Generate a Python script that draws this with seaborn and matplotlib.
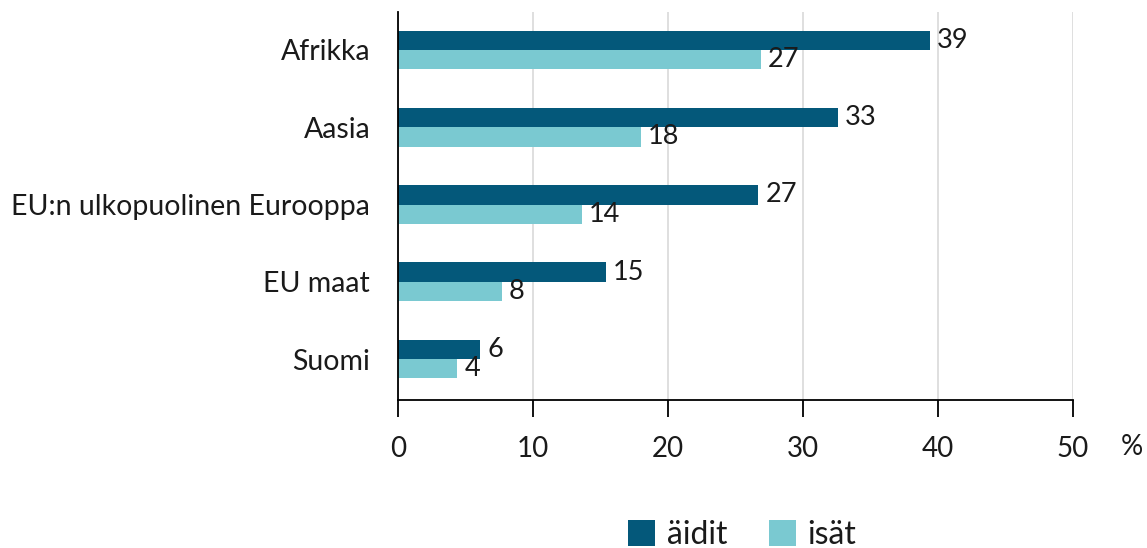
import pandas as pd
import numpy as np
import matplotlib
matplotlib.use('Agg')
import matplotlib.pyplot as plt
import seaborn as sns

# data
alueet = ['Afrikka', 'Aasia', 'EU:n ulkopuolinen Eurooppa', 'EU maat', 'Suomi']
aidit = [39.4, 32.6, 26.7, 15.4, 6.1]
isat = [26.9, 18.0, 13.6, 7.7, 4.4]
aidit_lbl = ['39', '33', '27', '15', '6']
isat_lbl = ['27', '18', '14', '8', '4']

dta = pd.DataFrame({'alue': alueet * 2,
                    'arvo': aidit + isat,
                    'ryhma': ['äidit'] * 5 + ['isät'] * 5})

sns.set_theme(style='white')
plt.rcParams['font.family'] = ['Lato', 'DejaVu Sans']

fig = plt.figure(figsize=(11.47, 5.48), dpi=100)
ax = fig.add_axes([0.347, 0.27, 0.5885, 0.708])

sns.barplot(data=dta, y='alue', x='arvo', hue='ryhma', orient='h',
            palette=['#04587a', '#7ac9d1'], width=0.5, gap=0,
            errorbar=None, ax=ax, legend=True, saturation=1,
            edgecolor='none', linewidth=0)

for cont, lbl in zip(ax.containers, [aidit_lbl, isat_lbl]):
    ax.bar_label(cont, labels=lbl, padding=5, fontsize=19.5, color='#1a1a1a')

ax.set_xlim(0, 50)
ax.set_ylim(4.53, -0.49)
ax.set_xticks([0, 10, 20, 30, 40, 50])
ax.xaxis.grid(True, color='#d9d9d9', linewidth=1.2)
ax.set_axisbelow(True)
ax.set_xlabel('')
ax.set_ylabel('')
for s in ['top', 'right']:
    ax.spines[s].set_visible(False)
for s in ['left', 'bottom']:
    ax.spines[s].set_color('black')
    ax.spines[s].set_linewidth(1.3)
ax.tick_params(axis='x', bottom=True, length=12, width=1.3, color='black',
               labelsize=20, pad=14, labelcolor='#1a1a1a')
ax.tick_params(axis='y', left=False, labelsize=20.5, pad=14, labelcolor='#1a1a1a')
fig.text(1132 / 1147, 1 - 447 / 548, '%', fontsize=20,
         ha='center', va='center', color='#1a1a1a')

handles, labels = ax.get_legend_handles_labels()
ax.get_legend().remove()
fig.legend(handles, labels, loc='center', bbox_to_anchor=(742 / 1147, 1 - 535 / 548),
           ncol=2, frameon=False, fontsize=23, handlelength=0.85, handleheight=0.85,
           handletextpad=0.35, columnspacing=1.3, labelcolor='#1a1a1a',
           borderpad=0, borderaxespad=0)

fig.savefig('out.png', dpi=100)
